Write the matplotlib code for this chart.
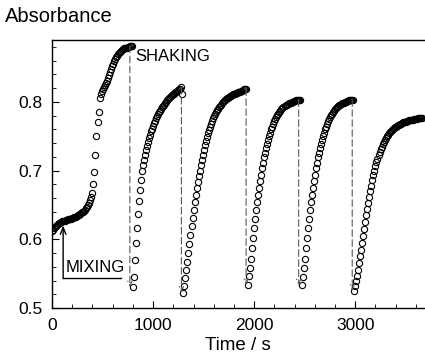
import matplotlib
matplotlib.use("Agg")
import matplotlib.pyplot as plt
import numpy as np
from matplotlib.ticker import MultipleLocator

plt.rcParams['font.family'] = ['Liberation Sans', 'DejaVu Sans']

# sampling interval (s) and start time of each run
dt = 10
starts = [0, 800, 1300, 1940, 2470, 2990]

# absorbance readings, one list per run (between two shakings)
run1 = [0.612, 0.614, 0.616, 0.618, 0.620, 0.621, 0.622, 0.623, 0.624, 0.625,
        0.626, 0.626, 0.627, 0.627, 0.628, 0.628, 0.629, 0.629, 0.630, 0.630,
        0.631, 0.631, 0.632, 0.632, 0.633, 0.634, 0.635, 0.636, 0.637, 0.638,
        0.639, 0.640, 0.641, 0.643, 0.645, 0.647, 0.650, 0.653, 0.657, 0.662,
        0.668, 0.680, 0.698, 0.722, 0.751, 0.771, 0.785, 0.805, 0.811, 0.816,
        0.819, 0.821, 0.824, 0.827, 0.831, 0.835, 0.839, 0.844, 0.848, 0.852,
        0.855, 0.859, 0.862, 0.865, 0.867, 0.869, 0.871, 0.873, 0.874, 0.876,
        0.877, 0.878, 0.878, 0.879, 0.879, 0.880, 0.880, 0.881, 0.881, 0.881]
run2 = [0.530, 0.545, 0.570, 0.595, 0.617, 0.637, 0.655, 0.671, 0.686, 0.699,
        0.708, 0.716, 0.723, 0.730, 0.736, 0.742, 0.747, 0.752, 0.757, 0.761,
        0.765, 0.769, 0.772, 0.776, 0.779, 0.782, 0.785, 0.787, 0.790, 0.792,
        0.794, 0.796, 0.798, 0.800, 0.802, 0.804, 0.805, 0.807, 0.808, 0.810,
        0.811, 0.812, 0.814, 0.815, 0.816, 0.817, 0.818, 0.819, 0.821, 0.811]
run3 = [0.522, 0.532, 0.543, 0.555, 0.567, 0.580, 0.593, 0.606, 0.619, 0.631,
        0.643, 0.654, 0.664, 0.674, 0.683, 0.692, 0.700, 0.708, 0.716, 0.723,
        0.730, 0.737, 0.743, 0.749, 0.754, 0.759, 0.764, 0.768, 0.772, 0.776,
        0.779, 0.782, 0.785, 0.788, 0.790, 0.792, 0.794, 0.796, 0.798, 0.800,
        0.801, 0.802, 0.804, 0.805, 0.806, 0.807, 0.808, 0.809, 0.810, 0.811,
        0.811, 0.812, 0.813, 0.813, 0.814, 0.815, 0.815, 0.816, 0.816, 0.817,
        0.818, 0.818, 0.819]
run4 = [0.533, 0.546, 0.558, 0.572, 0.587, 0.602, 0.616, 0.629, 0.642, 0.654,
        0.665, 0.675, 0.685, 0.694, 0.703, 0.711, 0.719, 0.726, 0.733, 0.739,
        0.745, 0.750, 0.755, 0.760, 0.764, 0.768, 0.772, 0.775, 0.778, 0.781,
        0.783, 0.785, 0.787, 0.789, 0.791, 0.792, 0.794, 0.795, 0.796, 0.797,
        0.798, 0.799, 0.799, 0.800, 0.800, 0.801, 0.801, 0.802, 0.802, 0.802,
        0.803, 0.803]
run5 = [0.533, 0.545, 0.558, 0.572, 0.587, 0.602, 0.616, 0.630, 0.642, 0.654,
        0.665, 0.675, 0.685, 0.694, 0.703, 0.711, 0.719, 0.726, 0.733, 0.739,
        0.745, 0.750, 0.755, 0.760, 0.764, 0.768, 0.772, 0.775, 0.778, 0.781,
        0.783, 0.785, 0.787, 0.789, 0.791, 0.792, 0.794, 0.795, 0.796, 0.797,
        0.798, 0.799, 0.799, 0.800, 0.800, 0.801, 0.801, 0.802, 0.802, 0.802,
        0.803, 0.803]
run6 = [0.525, 0.532, 0.539, 0.547, 0.556, 0.565, 0.575, 0.585, 0.595, 0.605,
        0.615, 0.625, 0.635, 0.644, 0.653, 0.662, 0.670, 0.678, 0.686, 0.693,
        0.700, 0.706, 0.712, 0.717, 0.722, 0.727, 0.731, 0.735, 0.739, 0.742,
        0.745, 0.748, 0.750, 0.752, 0.754, 0.756, 0.758, 0.759, 0.761, 0.762,
        0.763, 0.764, 0.765, 0.766, 0.767, 0.768, 0.768, 0.769, 0.770, 0.770,
        0.771, 0.771, 0.772, 0.772, 0.773, 0.773, 0.774, 0.774, 0.774, 0.775,
        0.775, 0.775, 0.775, 0.776, 0.776, 0.776, 0.776, 0.776]
runs = [run1, run2, run3, run4, run5, run6]

# mixing annotation: time, arrow tip, foot of the bracket, end of bracket
mix_t = 110
mix_tip = 0.620
mix_foot = 0.543
mix_end = 680

fig = plt.figure(figsize=(4.25, 3.58), dpi=100)
ax = fig.add_axes([0.1224, 0.1397, 0.8776, 0.7486])

for t0, vals in zip(starts, runs):
    t = t0 + dt * np.arange(len(vals))
    ax.plot(t, vals, 'o', mfc='none', mec='black', ms=4.5, mew=0.8)

# shaking: dashed arrows from the top of one run to the start of the next
for i in range(len(runs) - 1):
    k = int(np.argmax(runs[i]))
    tp = starts[i] + dt * k
    ax.annotate('', xy=(tp, runs[i + 1][0]), xytext=(tp, runs[i][k]),
                arrowprops=dict(arrowstyle='->,head_length=0.35,head_width=0.15',
                                linestyle=(0, (6, 3)), lw=0.8, color='0.35',
                                shrinkA=0, shrinkB=0))

ax.text(820, 0.866, 'SHAKING', fontsize=12, va='center', ha='left')

# mixing bracket
ax.plot([mix_t, mix_end], [mix_foot, mix_foot], color='black', lw=1.0)
ax.annotate('', xy=(mix_t, mix_tip), xytext=(mix_t, mix_foot),
            arrowprops=dict(arrowstyle='->,head_length=0.5,head_width=0.2',
                            lw=1.0, color='black', shrinkA=0, shrinkB=0))
ax.text(135, 0.548, 'MIXING', fontsize=12, va='bottom', ha='left')

ax.set_xlim(0, 3690)
ax.set_ylim(0.5, 0.89)
ax.xaxis.set_major_locator(MultipleLocator(1000))
ax.xaxis.set_minor_locator(MultipleLocator(200))
ax.yaxis.set_major_locator(MultipleLocator(0.1))
ax.yaxis.set_minor_locator(MultipleLocator(0.02))
ax.tick_params(which='both', direction='in', top=False, right=False,
               labelsize=12.5, pad=7)
ax.tick_params(which='major', length=5)
ax.tick_params(which='minor', length=3)
ax.set_yticks([0.5, 0.6, 0.7, 0.8])
ax.set_yticklabels(['0.5', '0.6', '0.7', '0.8'])
ax.spines['right'].set_visible(False)
for s in ['left', 'bottom', 'top']:
    ax.spines[s].set_linewidth(1.0)

fig.text(0.012, 0.953, 'Absorbance', fontsize=14.5, va='center', ha='left')
fig.text(0.56, 0.036, 'Time / s', fontsize=13.5, va='center', ha='center')

fig.savefig('out.png', dpi=100)
